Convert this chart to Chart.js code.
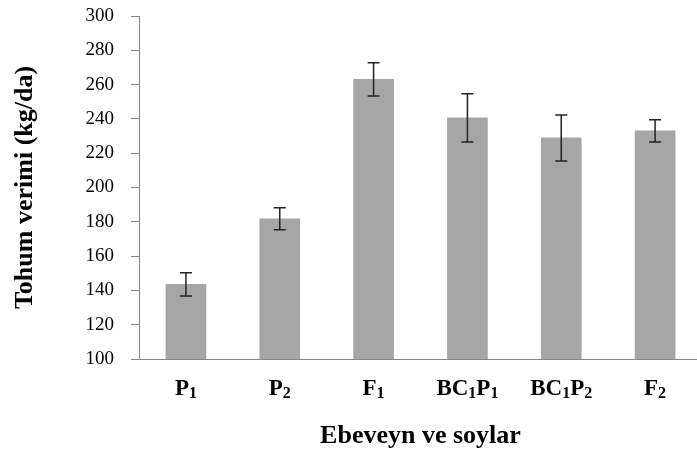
<!DOCTYPE html>
<html>
<head>
<meta charset="utf-8">
<script src="https://cdn.jsdelivr.net/npm/chart.js@4.4.1/dist/chart.umd.min.js"></script>
<style>
    html, body { margin: 0; padding: 0; background: #fff; overflow: hidden; }
    #chart { display: block; }
</style>
</head>
<body>
<canvas id="chart" width="703" height="453"></canvas>
<script>
const categories = ['P1', 'P2', 'F1', 'BC1P1', 'BC1P2', 'F2'];
const yieldMeans = [143.5, 181.8, 263.1, 240.6, 228.9, 233.0];
const yieldErrors = [6.8, 6.4, 9.7, 14.1, 13.4, 6.5];
const yTicks = [100, 120, 140, 160, 180, 200, 220, 240, 260, 280, 300];

const serif = '"Liberation Serif", "Times New Roman", serif';

// draws the error bars on top of each bar
const errorBars = {
    id: 'errorBars',
    afterDatasetsDraw(chart) {
        const ctx = chart.ctx;
        const y = chart.scales.y;
        const meta = chart.getDatasetMeta(0);
        ctx.save();
        ctx.strokeStyle = '#222';
        ctx.lineWidth = 1.5;
        meta.data.forEach((bar, i) => {
            const top = y.getPixelForValue(yieldMeans[i] + yieldErrors[i]);
            const bottom = y.getPixelForValue(yieldMeans[i] - yieldErrors[i]);
            ctx.beginPath();
            ctx.moveTo(bar.x, top);
            ctx.lineTo(bar.x, bottom);
            ctx.moveTo(bar.x - 6, top);
            ctx.lineTo(bar.x + 6, top);
            ctx.moveTo(bar.x - 6, bottom);
            ctx.lineTo(bar.x + 6, bottom);
            ctx.stroke();
        });
        ctx.restore();
    }
};

// category labels with subscript digits
const subLabels = {
    id: 'subLabels',
    afterDraw(chart) {
        const ctx = chart.ctx;
        const x = chart.scales.x;
        const baseY = chart.chartArea.bottom + 36;
        const big = 'bold 23px ' + serif;
        const small = 'bold 16px ' + serif;
        ctx.save();
        ctx.fillStyle = '#000';
        ctx.textBaseline = 'alphabetic';
        categories.forEach((label, i) => {
            const parts = label.match(/[A-Z]+|\d+/g);
            let total = 0;
            parts.forEach(p => {
                ctx.font = /\d/.test(p) ? small : big;
                total += ctx.measureText(p).width;
            });
            let cx = x.getPixelForValue(i) - total / 2;
            parts.forEach(p => {
                const isSub = /\d/.test(p);
                ctx.font = isSub ? small : big;
                ctx.fillText(p, cx, baseY + (isSub ? 3 : 0));
                cx += ctx.measureText(p).width;
            });
        });
        ctx.restore();
    }
};

new Chart(document.getElementById('chart'), {
    type: 'bar',
    data: {
        labels: categories,
        datasets: [{
            data: yieldMeans,
            backgroundColor: '#a6a6a6',
            borderWidth: 0,
            barThickness: 40
        }]
    },
    options: {
        responsive: false,
        animation: false,
        layout: { padding: { top: 16, right: 1, left: 0, bottom: 0 } },
        plugins: {
            legend: { display: false },
            tooltip: { enabled: false }
        },
        scales: {
            x: {
                grid: { display: false },
                border: { display: true, color: '#868686', width: 1 },
                ticks: { color: 'rgba(0,0,0,0)', font: { family: serif, size: 20, weight: 'bold' } },
                title: {
                    display: true,
                    text: 'Ebeveyn ve soylar',
                    color: '#000',
                    font: { family: serif, size: 26, weight: 'bold' },
                    padding: { top: 0, bottom: 1 }
                },
                afterFit(scale) {
                    scale.height = 94;
                    scale.paddingLeft = 0;
                    scale.paddingRight = 0;
                }
            },
            y: {
                min: 100,
                max: 300,
                afterBuildTicks(scale) { scale.ticks = yTicks.map(v => ({ value: v })); },
                grid: {
                    drawOnChartArea: false,
                    drawTicks: true,
                    tickLength: 8,
                    color: '#868686'
                },
                border: { display: true, color: '#868686', width: 1 },
                ticks: {
                    color: '#000',
                    padding: 17,
                    font: { family: serif, size: 19 }
                },
                title: {
                    display: true,
                    text: 'Tohum verimi (kg/da)',
                    color: '#000',
                    font: { family: serif, size: 26, weight: 'bold' },
                    padding: { top: 10, bottom: 0 }
                },
                afterFit(scale) {
                    scale.width = 139;
                    scale.paddingTop = 0;
                    scale.paddingBottom = 0;
                }
            }
        }
    },
    plugins: [errorBars, subLabels]
});
</script>
</body>
</html>
